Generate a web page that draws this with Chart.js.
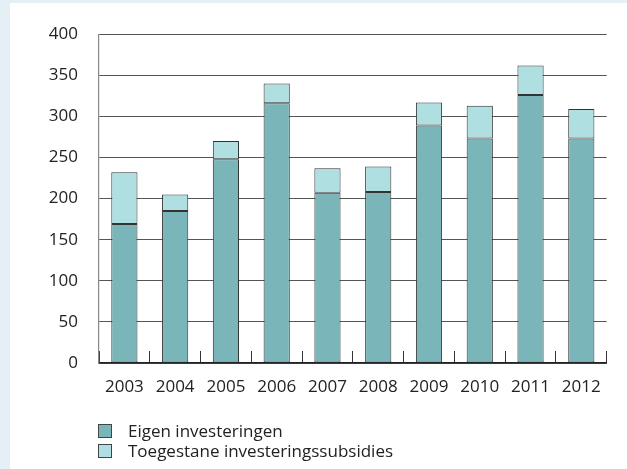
<!DOCTYPE html>
<html>
<head>
<meta charset="utf-8">
<script src="https://cdn.jsdelivr.net/npm/chart.js@4/dist/chart.umd.min.js"></script>
<style>
  html, body { margin: 0; padding: 0; background: #e4f0f5; }
  #wrap { position: absolute; left: 10px; top: 3px; width: 617px; height: 466px; background: #fff; }
  #legend { position: absolute; left: 98px; top: 421px; font: 17px "Open Sans", sans-serif; color: #222; }
  #legend div { height: 20px; line-height: 20px; white-space: nowrap; }
  #legend span { display: inline-block; width: 12px; height: 12px; border: 1px solid #444; margin-right: 16px; vertical-align: -1px; }
</style>
</head>
<body>
<div id="wrap"><canvas id="chart"></canvas></div>
<div id="legend"></div>
<script>
const years = ['2003', '2004', '2005', '2006', '2007', '2008', '2009', '2010', '2011', '2012'];
const eigen = [169, 185, 248, 316, 207, 208, 289, 273, 326, 273];
const subsidies = [63, 20, 22, 24, 30, 31, 28, 40, 36, 36];
const seriesNames = ['Eigen investeringen', 'Toegestane investeringssubsidies'];
const colors = ['#7ab6b9', '#afdfe0'];
const yTicks = [0, 50, 100, 150, 200, 250, 300, 350, 400];

const font = { family: '"Open Sans", sans-serif', size: 17 };

const chart = new Chart(document.querySelector('#chart'), {
    type: 'bar',
    data: {
        labels: years,
        datasets: [eigen, subsidies].map((data, i) => ({
            label: seriesNames[i],
            data,
            backgroundColor: colors[i],
            borderColor: '#333',
            borderWidth: 1,
            borderSkipped: false,
        }))
    },
    options: {
        responsive: true,
        maintainAspectRatio: false,
        animation: false,
        datasets: { bar: { categoryPercentage: 1, barPercentage: 0.516 } },
        layout: { padding: { left: 0, right: 5, top: 29, bottom: 48 } },
        scales: {
            x: {
                stacked: true,
                grid: { display: true, offset: true, drawOnChartArea: false, drawTicks: true, tickLength: -12, tickColor: '#333' },
                border: { color: '#222', width: 1.4 },
                ticks: { color: '#222', font, padding: 26 },
                afterFit: s => { s.height = 58; }
            },
            y: {
                stacked: true,
                min: 0,
                max: yTicks[yTicks.length - 1],
                afterBuildTicks: s => { s.ticks = yTicks.map(v => ({ value: v })); },
                grid: { color: '#555', lineWidth: 1, drawTicks: false },
                border: { color: '#888', width: 1.2 },
                ticks: { color: '#222', font, padding: 21 },
                afterFit: s => { s.width = 89; }
            }
        },
        plugins: {
            tooltip: { enabled: false },
            legend: { display: false }
        }
    }
});

// legend as html, from the same datasets
document.querySelector('#legend').innerHTML = chart.data.datasets
    .map(ds => `<div><span style="background:${ds.backgroundColor}"></span>${ds.label}</div>`)
    .join('');
</script>
</body>
</html>
